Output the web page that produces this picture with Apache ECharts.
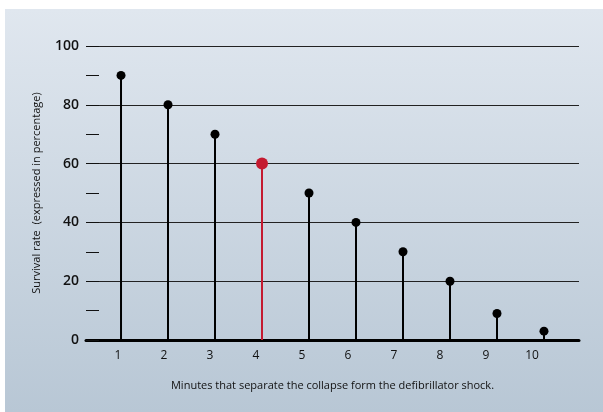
<!DOCTYPE html>
<html><head><meta charset="utf-8">
<script src="https://cdn.jsdelivr.net/npm/echarts@6/dist/echarts.min.js"></script>
<style>html,body{margin:0;padding:0;background:#fff}#c{width:603px;height:412px}</style>
</head><body><div id="c"></div>
<script>
const minutes = [1, 2, 3, 4, 5, 6, 7, 8, 9, 10];
const survival = [90, 80, 70, 60, 50, 40, 30, 20, 9, 3];
const highlightMinute = 4;
const yTicks = [0, 20, 40, 60, 80, 100];

const chart = echarts.init(document.getElementById('c'));
const font = '"Open Sans", "Noto Sans", sans-serif';
const pts = minutes.map((m, i) => ({
  value: [m, survival[i]],
  itemStyle: { color: m === highlightMinute ? '#c41a30' : '#000', opacity: 1 }
}));
chart.setOption({
  animation: false,
  graphic: [{
    type: 'rect', z: -10, silent: true,
    shape: { x: 5, y: 9, width: 598, height: 403 },
    style: { fill: new echarts.graphic.LinearGradient(0, 0, 0, 1, [
      { offset: 0, color: '#e0e7ef' }, { offset: 1, color: '#b8c7d5' }]) }
  }],
  grid: { left: 86, right: 24, top: 46, bottom: 72 },
  xAxis: [{
    type: 'value', min: 0.255, max: 10.745,
    axisLine: { show: true, lineStyle: { color: '#000', width: 3 } },
    axisTick: { show: false }, axisLabel: { show: false }, splitLine: { show: false },
    name: 'Minutes that separate the collapse form the defibrillator shock.',
    nameLocation: 'middle', nameGap: 40,
    nameTextStyle: { fontFamily: font, fontSize: 11, color: '#111' }
  }, {
    type: 'value', min: 0.3043, max: 11.022, position: 'bottom',
    axisLine: { show: false }, axisTick: { show: false }, splitLine: { show: false },
    axisLabel: { show: true, customValues: minutes, margin: 10,
      fontFamily: font, fontSize: 12, color: '#111' }
  }],
  yAxis: {
    type: 'value', min: 0, max: 100, interval: 20,
    axisLine: { show: false },
    axisTick: { show: true, inside: true, length: 13, lineStyle: { color: '#111', width: 1 } },
    minorTick: { show: true, splitNumber: 2, length: 13, lineStyle: { color: '#111', width: 1 } },
    splitLine: { show: true, lineStyle: { color: '#222', width: 1 } },
    axisLabel: { margin: 7, fontFamily: font, fontSize: 14, fontWeight: 600, color: '#111',
      customValues: yTicks },
    name: 'Survival rate  (expressed in percentage)',
    nameLocation: 'middle', nameGap: 44,
    nameTextStyle: { fontFamily: font, fontSize: 11, color: '#111' }
  },
  series: [{
    type: 'bar', xAxisIndex: 0, barWidth: 2, data: pts, z: 3
  }, {
    type: 'scatter', xAxisIndex: 0,
    data: pts.map(p => ({ value: p.value, itemStyle: p.itemStyle,
      symbolSize: p.value[0] === highlightMinute ? 12 : 9 })), z: 4
  }]
});
</script></body></html>
